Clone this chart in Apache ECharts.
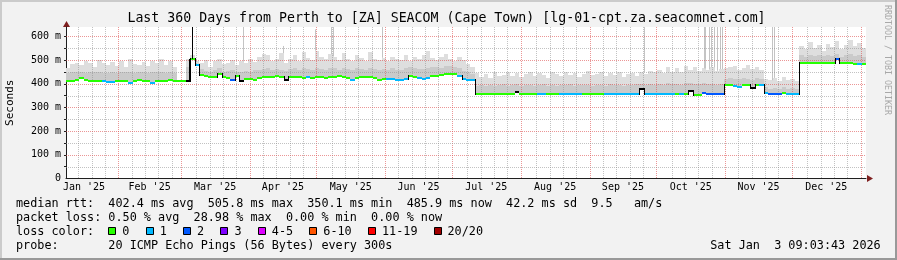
<!DOCTYPE html>
<html><head><meta charset="utf-8">
<script src="https://cdn.jsdelivr.net/npm/echarts@6/dist/echarts.min.js"></script>
<style>html,body{margin:0;padding:0;background:#f2f2f2;}#c{width:897px;height:260px;}</style>
</head><body><div id="c"></div>
<script>
// ---- data (days since start of window, 2-day columns) ----
const STEP = 2;
const median = [
412,413,414,426,418,413,412,412,411,406,
407,412,413,413,404,412,414,413,412,405,
412,413,412,414,412,410,410,412,505,478,
438,434,430,428,440,428,426,416,434,412,
422,420,418,424,428,430,428,432,430,416,
428,430,427,426,428,426,430,428,425,428,
430,432,428,426,418,424,430,428,430,426,
418,419,421,420,417,416,421,434,430,424,
420,424,434,435,436,440,441,440,432,422,
418,416,358,357,357,358,357,357,358,357,
357,364,358,357,357,357,358,357,357,357,
357,356,356,356,356,356,357,357,357,357,
357,356,356,356,356,355,356,356,356,378,
356,356,356,356,355,355,355,355,355,355,
370,352,351,361,355,355,355,355,397,397,
390,388,393,394,382,397,396,362,355,355,
355,361,358,355,355,487,487,488,487,487,
487,487,487,504,487,487,486,485,484,483];
const loss = [
0,0,0,0,0,0,0,0,1,1,
1,0,0,0,1,0,0,0,0,1,
0,0,0,0,0,0,0,-1,0,1,
0,0,0,0,0,0,0,2,0,-1,
0,0,0,0,0,0,0,0,0,-1,
0,0,0,0,1,0,0,0,0,0,
0,0,0,0,1,0,0,0,0,0,
0,0,1,1,1,1,1,0,0,1,
1,1,0,0,0,0,0,0,1,1,
1,1,0,0,0,0,0,0,0,0,
0,-1,0,0,0,0,1,1,0,0,
0,1,1,1,1,1,0,0,0,0,
0,1,1,1,1,1,1,1,1,-1,
1,1,1,1,1,1,1,0,1,0,
-1,0,0,2,2,2,2,2,0,0,
1,1,0,0,-1,0,1,1,2,2,
2,0,1,1,1,0,0,0,0,0,
0,0,0,2,0,0,0,0,1,0];
const smokeMid = [
445,448,452,450,446,450,448,452,447,445,
450,446,452,448,450,447,452,449,446,450,
448,452,446,450,445,null,null,470,505,480,
462,455,452,458,465,452,455,458,450,452,
455,452,458,460,462,465,458,462,460,455,
462,465,458,466,462,460,468,462,460,465,
465,460,468,462,458,466,462,460,468,462,
458,462,460,465,458,460,466,470,465,462,
462,468,470,472,468,475,476,470,465,455,
450,440,392,395,390,396,392,394,398,392,
395,398,392,396,394,390,396,398,392,395,
392,396,394,398,390,395,393,397,392,396,
395,392,398,394,396,390,395,393,398,400,
396,398,394,400,396,402,398,400,396,402,
404,398,400,402,398,400,396,398,420,424,
422,420,425,422,418,424,420,385,380,382,
378,385,380,383,378,520,515,522,518,520,
516,522,518,525,515,520,524,518,522,515];
const smokeHi = [
468,482,490,478,495,486,472,500,488,480,
492,476,498,470,505,484,480,492,475,498,
486,505,480,495,470,null,null,505,520,498,
488,500,472,495,505,482,490,500,478,495,
488,505,492,515,528,520,498,505,530,490,
505,520,495,535,510,500,540,512,505,525,
515,500,530,505,495,520,510,498,535,505,
500,510,495,515,505,500,520,495,512,505,
520,540,510,500,515,525,505,498,512,500,
485,470,445,430,440,425,448,432,438,450,
435,445,428,440,450,432,445,438,425,448,
440,432,450,438,445,428,442,455,436,440,
448,432,445,438,452,430,440,446,435,450,
440,455,448,460,445,470,452,465,450,475,
460,470,455,465,460,470,455,462,465,470,
475,460,468,480,462,470,458,420,415,425,
410,428,415,420,410,560,545,575,550,565,
540,570,555,580,548,565,585,560,572,550];
// thin spikes (day, bottom, top)
const smokeSpikeDay = [79.8,97.6,112.1,119.3,120.2,142.4,259.9,286.9,287.7,289.2,290.4,291.4,292.9,294.5,295.4,317.6,318.5];
const smokeSpikeTop = [640,560,630,640,640,640,640,640,640,640,640,640,640,640,640,640,640];
const medianSpikeDay = [55.4,56.9];
const medianSpikeBase = [412,505];
const medianSpikeTop = [505,640];
// axes / grid
const monthStartDay = [23.62,51.62,82.62,112.62,143.62,173.62,204.62,235.62,265.62,296.62,326.62,357.62];
const monthLabelDay = [8.12,37.62,67.12,97.62,128.12,158.62,189.12,220.12,250.62,281.12,311.62,342.12];
const monthLabels = ["Jan '25","Feb '25","Mar '25","Apr '25","May '25","Jun '25","Jul '25","Aug '25","Sep '25","Oct '25","Nov '25","Dec '25"];
const minorGridDay = [5.62,11.62,17.62,29.62,35.62,41.62,47.62,58.62,64.62,70.62,76.62,88.62,94.62,100.62,106.62,
  119.62,125.62,131.62,137.62,149.62,155.62,161.62,167.62,180.62,186.62,192.62,198.62,211.62,217.62,223.62,229.62,
  241.62,247.62,253.62,259.62,272.62,278.62,284.62,290.62,302.62,308.62,314.62,320.62,333.62,339.62,345.62,351.62];
const yGridValues = [50,100,150,200,250,300,350,400,450,500,550,600];
const yLabelValues = [0,100,200,300,400,500,600];
const lossLabels = ['0','1','2','3','4-5','6-10','11-19','20/20'];
const lossColors = ['#26ff00','#00b8ff','#0059ff','#7e00ff','#dd00ff','#ff5500','#ff0000','#a10000'];
const lossBoxX = [108.3,145.7,183,220.4,257.8,309.3,368,433.5];

const X_MAX = 360, Y_MAX = 640;
const MONO = '"DejaVu Sans Mono", monospace';
const MAJ = 'rgba(222,80,80,0.6)', MIN = 'rgba(143,143,143,0.55)';

const cols = median.map((m,i)=>[i*STEP+STEP/2, m, smokeMid[i], smokeHi[i], loss[i], i>0?median[i-1]:m]);
const vgrid = monthStartDay.map(d=>[d,1]).concat(minorGridDay.map(d=>[d,0]));
const hgrid = yGridValues.map(v=>[0,v,v%100===0?1:0]);
const sspikes = smokeSpikeDay.map((d,k)=>[d, smokeHi[Math.floor(d/STEP)], smokeSpikeTop[k]]);
const mspikes = medianSpikeDay.map((d,k)=>[d, medianSpikeBase[k], medianSpikeTop[k]]);

const chart = echarts.init(document.getElementById('c'), null, {renderer:'canvas'});
const txt = (x,y,t,o)=>Object.assign({type:'text', x, y, silent:true, style:Object.assign({text:t, font:'11.8px '+MONO, fill:'#000', align:'left', verticalAlign:'middle'}, o||{})});
const graphics = [
  {type:'rect', shape:{x:0,y:0,width:897,height:2}, style:{fill:'#cbcbcb'}, silent:true},
  {type:'rect', shape:{x:0,y:0,width:2,height:260}, style:{fill:'#cbcbcb'}, silent:true},
  {type:'rect', shape:{x:0,y:258,width:897,height:2}, style:{fill:'#999999'}, silent:true},
  {type:'rect', shape:{x:895,y:0,width:2,height:260}, style:{fill:'#999999'}, silent:true},
  txt(446.5,19,'Last 360 Days from Perth to [ZA] SEACOM (Cape Town) [lg-01-cpt.za.seacomnet.com]',{font:'13.25px '+MONO, align:'center'}),
  Object.assign(txt(887,5,'RRDTOOL / TOBI OETIKER',{font:'8.3px '+MONO, fill:'#a8a8a8'}),{rotation:-Math.PI/2}),
  txt(16,204.3,'median rtt:  402.4 ms avg  505.8 ms max  350.1 ms min  485.9 ms now  42.2 ms sd  9.5   am/s'),
  txt(16,218.3,'packet loss: 0.50 % avg  28.98 % max  0.00 % min  0.00 % now'),
  txt(16,232.3,'loss color:'),
  txt(16,246.3,'probe:       20 ICMP Echo Pings (56 Bytes) every 300s'),
  txt(880.7,246.3,'Sat Jan  3 09:03:43 2026',{align:'right'}),
  {type:'polygon', shape:{points:[[867,175],[873,178.5],[867,182]]}, style:{fill:'#7f1f1f'}, silent:true},
  {type:'polygon', shape:{points:[[63,27],[66.5,21],[70,27]]}, style:{fill:'#7f1f1f'}, silent:true}
];
lossLabels.forEach((l,k)=>{
  graphics.push({type:'rect', shape:{x:Math.round(lossBoxX[k])+0.5,y:227.5,width:7,height:7}, style:{fill:lossColors[k], stroke:'#000', lineWidth:1}, silent:true});
  graphics.push(txt(lossBoxX[k]+14,232.3,l));
});

chart.setOption({
  animation:false,
  backgroundColor:'#f2f2f2',
  grid:{left:66, top:27, width:800, height:151.5, show:true, backgroundColor:'#ffffff', borderWidth:0, outerBoundsMode:'none', containLabel:false},
  xAxis:{type:'value', min:0, max:X_MAX,
    axisLine:{show:true, onZero:false, lineStyle:{color:'#1f1f1f', width:1}},
    axisTick:{show:false}, splitLine:{show:false},
    axisLabel:{customValues:monthLabelDay, formatter:v=>{const k=monthLabelDay.indexOf(v);return k>=0?monthLabels[k]:'';},
      color:'#000', fontFamily:MONO, fontSize:10, margin:4}},
  yAxis:{type:'value', min:0, max:Y_MAX, name:'Seconds', nameLocation:'middle', nameGap:50,
    nameTextStyle:{color:'#000', fontFamily:MONO, fontSize:11},
    axisLine:{show:true, lineStyle:{color:'#1f1f1f', width:1}},
    axisTick:{show:true, customValues:yGridValues, length:2, lineStyle:{color:'#1f1f1f'}}, splitLine:{show:false},
    axisLabel:{customValues:yLabelValues, formatter:v=>v===0?'0':v+' m', color:'#000', fontFamily:MONO, fontSize:10, margin:5}},
  graphic:graphics,
  series:[
    {type:'custom', z:1, silent:true, data:cols, encode:{x:0,y:1},
     renderItem:(p,api)=>{
       const x=api.value(0), m=api.value(1), mid=api.value(2), hi=api.value(3);
       if (isNaN(hi)) return null;
       const a=api.coord([x-STEP/2,m]), b=api.coord([x+STEP/2,hi]), c=api.coord([x,mid]);
       const x0=Math.round(a[0]), x1=Math.round(b[0]), yb=Math.round(a[1])+1;
       const children=[{type:'rect', shape:{x:x0,y:Math.round(b[1]),width:x1-x0,height:yb-Math.round(b[1])}, style:{fill:'#dedede'}}];
       if (!isNaN(mid)) children.push({type:'rect', shape:{x:x0,y:Math.round(c[1]),width:x1-x0,height:yb-Math.round(c[1])}, style:{fill:'#cacaca'}});
       return {type:'group', children};
     }},
    {type:'custom', z:2, silent:true, data:sspikes, encode:{x:0,y:2},
     renderItem:(p,api)=>{
       const a=api.coord([api.value(0),api.value(1)]), b=api.coord([api.value(0),api.value(2)]);
       const x=Math.round(a[0])+0.5;
       return {type:'line', shape:{x1:x,y1:a[1],x2:x,y2:b[1]}, style:{stroke:'#c4c4c4', lineWidth:1}};
     }},
    {type:'custom', z:3, silent:true, data:vgrid, encode:{x:0},
     renderItem:(p,api)=>{
       const a=api.coord([api.value(0),Y_MAX]), b=api.coord([api.value(0),0]);
       const x=Math.round(a[0])+0.5;
       return {type:'line', shape:{x1:x,y1:a[1],x2:x,y2:b[1]}, style:{stroke:api.value(1)?MAJ:MIN, lineWidth:1, lineDash:[1,1]}};
     }},
    {type:'custom', z:3, silent:true, data:hgrid, encode:{x:0,y:1},
     renderItem:(p,api)=>{
       const a=api.coord([0,api.value(1)]), b=api.coord([X_MAX,api.value(1)]);
       const y=Math.round(a[1])+0.5;
       return {type:'line', shape:{x1:a[0],y1:y,x2:b[0],y2:y}, style:{stroke:api.value(2)?MAJ:MIN, lineWidth:1, lineDash:[1,1]}};
     }},
    {type:'custom', z:4, silent:true, data:cols, encode:{x:0,y:1},
     renderItem:(p,api)=>{
       const x=api.value(0), m=api.value(1), l=api.value(4), pm=api.value(5);
       const a=api.coord([x-STEP/2,m]), b=api.coord([x+STEP/2,m]), c=api.coord([x-STEP/2,pm]);
       const x0=Math.round(a[0]), x1=Math.round(b[0]), y=Math.round(a[1]), yp=Math.round(c[1]);
       const children=[{type:'rect', shape:{x:x0,y:y-1,width:x1-x0,height:2}, style:{fill:l<0?'#000':lossColors[l]}}];
       if (Math.abs(y-yp)>2) children.push({type:'rect', shape:{x:x0,y:Math.min(y,yp)-1,width:1,height:Math.abs(y-yp)+2}, style:{fill:'#000'}});
       return {type:'group', children};
     }},
    {type:'custom', z:5, silent:true, data:mspikes, encode:{x:0,y:2},
     renderItem:(p,api)=>{
       const a=api.coord([api.value(0),api.value(1)]), b=api.coord([api.value(0),api.value(2)]);
       const x=Math.round(a[0])+0.5;
       return {type:'line', shape:{x1:x,y1:a[1],x2:x,y2:b[1]}, style:{stroke:'#000', lineWidth:1}};
     }}
  ]
});
</script></body></html>
